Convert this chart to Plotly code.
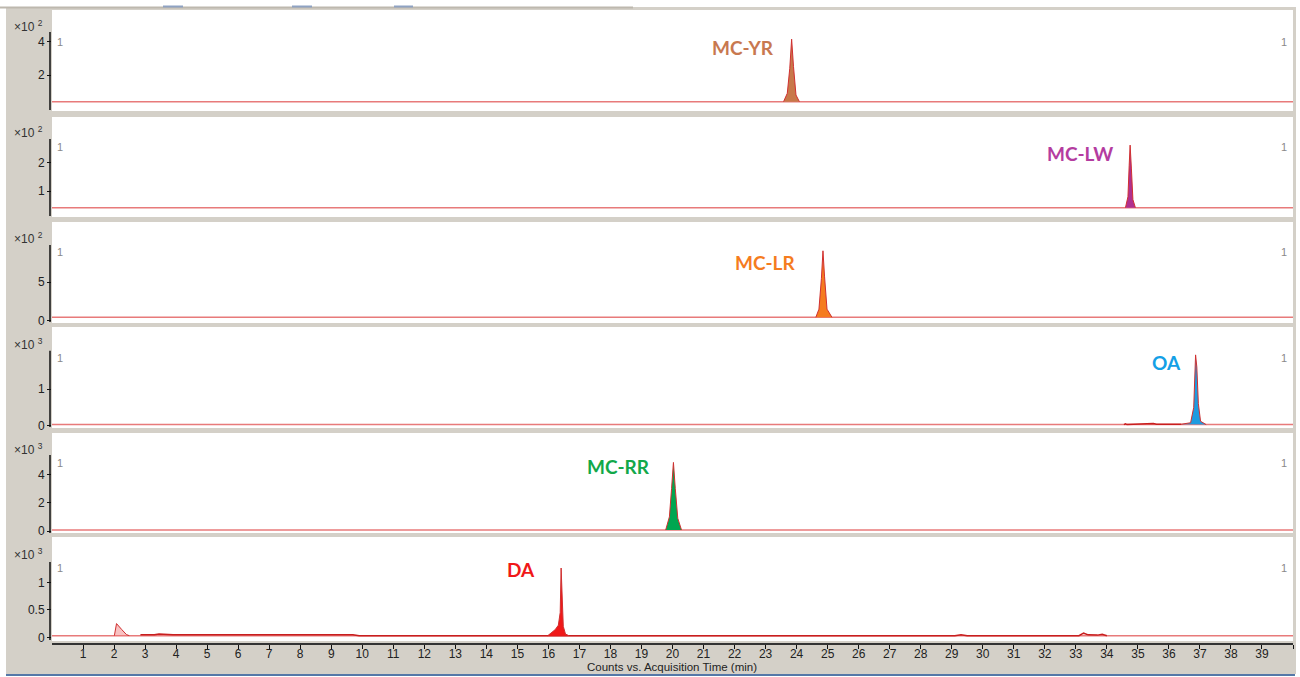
import plotly.graph_objects as go

W, H = 1300, 677
ML, MR, MT, MB = 52, 7, 0, 33
PW = W - ML - MR
PH = H - MT - MB


def px(x):
    return (x - ML) / PW


def py(y):
    return (H - MB - y) / PH


# ---------------- data ----------------
time_range = [0, 40]
x_tickvals = list(range(1, 41))
x_ticktext = [str(v) for v in range(1, 40)] + [""]

compounds = ["MC-YR", "MC-LW", "MC-LR", "OA", "MC-RR", "DA"]
exponents = [2, 2, 2, 3, 3, 3]
baselines = [0.40, 0.42, 0.44, 0.03, 0.07, 0.03]
y_ranges = [[-0.16, 5.90], [0.094, 3.58], [-0.30, 12.85],
            [-0.063, 2.69], [-0.14, 6.93], [-0.067, 1.824]]
y_tickvals = [[2, 4], [1, 2], [0, 5], [0, 1], [0, 2, 4], [0, 0.5, 1]]
y_ticktext = [["2", "4"], ["1", "2"], ["0", "5"], ["0", "1"], ["0", "2", "4"], ["0", "0.5", "1"]]
axis_line_span = [[-0.10, 4.58], [0.13, 2.81], [-0.17, 9.86],
                  [-0.035, 2.04], [-0.14, 5.37], [-0.05, 1.37]]

# peak profiles (time in min, counts in panel units)
yr_t = [23.58, 23.70, 23.78, 23.84, 23.90, 23.98, 24.09]
yr_y = [0.40, 0.90, 2.40, 4.15, 2.50, 0.80, 0.40]
lw_t = [34.60, 34.68, 34.72, 34.75, 34.79, 34.84, 34.92]
lw_y = [0.42, 0.80, 1.90, 2.60, 1.80, 0.70, 0.42]
lr_t = [24.62, 24.72, 24.80, 24.85, 24.90, 24.98, 25.14]
lr_y = [0.44, 1.50, 5.50, 9.10, 5.80, 1.50, 0.44]
oa_t = [36.40, 36.70, 36.80, 36.86, 36.90, 36.95, 37.02, 37.20]
oa_y = [0.04, 0.08, 0.50, 1.93, 1.60, 0.60, 0.12, 0.03]
oa_noise_t = [34.55, 34.60, 34.65, 35.00, 35.40, 35.50, 35.60, 36.00, 36.40]
oa_noise_y = [0.03, 0.05, 0.03, 0.04, 0.04, 0.06, 0.04, 0.04, 0.04]
rr_t = [19.78, 19.90, 19.97, 20.03, 20.09, 20.17, 20.29]
rr_y = [0.07, 1.00, 3.00, 4.85, 3.00, 0.90, 0.07]
da_t = [15.98, 16.10, 16.22, 16.32, 16.38, 16.41, 16.44, 16.48, 16.55, 16.66]
da_y = [0.03, 0.08, 0.14, 0.22, 0.45, 1.26, 0.60, 0.20, 0.06, 0.03]
da_early_t = [2.01, 2.08, 2.25, 2.40, 2.49]
da_early_y = [0.03, 0.25, 0.14, 0.05, 0.03]
da_noise_t = [2.85, 3.30, 3.45, 3.70, 3.90, 5.80, 6.90, 8.50, 9.70, 9.90, 29.10, 29.30, 29.50, 33.10, 33.25, 33.40, 33.70, 33.85, 34.00]
da_noise_y = [0.045, 0.045, 0.060, 0.055, 0.045, 0.045, 0.040, 0.045, 0.045, 0.030, 0.030, 0.045, 0.030, 0.030, 0.075, 0.045, 0.040, 0.055, 0.030]

peak_series = [
    [(yr_t, yr_y, "#C8784A")],
    [(lw_t, lw_y, "#B0308F")],
    [(lr_t, lr_y, "#F57C1F")],
    [(oa_t, oa_y, "#1E9BE0")],
    [(rr_t, rr_y, "#00A650")],
    [(da_t, da_y, "#F01818"), (da_early_t, da_early_y, "rgba(240,120,120,0.45)")],
]
label_colors = ["#C87850", "#B43CA0", "#F57C1F", "#14A0E6", "#12A84A", "#F01818"]

# ---------------- layout geometry (pixels) ----------------
panel_px = [(10, 111), (117, 217), (222, 323), (327, 428), (433, 533), (537, 641)]
label_px = [(743, 47), (1080, 154), (765, 262), (1166, 362), (618, 466), (521, 569)]
one_px = [41.7, 146.7, 251.7, 358.3, 462.7, 568.3]
exp_px = [26, 132, 238, 344, 449, 554]

fig = go.Figure()
layout = dict(
    width=W, height=H,
    margin=dict(l=ML, r=MR, t=MT, b=MB),
    paper_bgcolor="white",
    plot_bgcolor="rgba(0,0,0,0)",
    showlegend=False,
    font=dict(family="Liberation Sans, Arial, sans-serif", size=12, color="#222"),
)

shapes = []
annotations = []

# grey window frame
shapes.append(dict(type="rect", xref="paper", yref="paper", layer="below",
                   x0=px(6), x1=px(1296), y0=py(674), y1=py(7),
                   fillcolor="#D4D0C8", line=dict(width=0)))
shapes.append(dict(type="line", xref="paper", yref="paper", layer="below",
                   x0=px(0), x1=px(633), y0=py(7.5), y1=py(7.5),
                   line=dict(color="#BDB8AE", width=2)))
for a, b in [(163, 183), (292, 312), (394, 413)]:
    shapes.append(dict(type="line", xref="paper", yref="paper", layer="below",
                       x0=px(a), x1=px(b), y0=py(6.5), y1=py(6.5),
                       line=dict(color="#8FA2C2", width=2)))
shapes.append(dict(type="line", xref="paper", yref="paper", layer="below",
                   x0=px(6), x1=px(1295), y0=py(675), y1=py(675),
                   line=dict(color="#5578A8", width=2)))

for i in range(6):
    n = i + 1
    xa = "x" if n == 1 else f"x{n}"
    ya = "y" if n == 1 else f"y{n}"
    top, bot = panel_px[i]
    # white panel
    shapes.append(dict(type="rect", xref="paper", yref="paper", layer="below",
                       x0=px(52), x1=px(1293), y0=py(bot), y1=py(top),
                       fillcolor="white", line=dict(width=0)))
    # y axis line
    shapes.append(dict(type="line", xref="paper", yref=ya, layer="above",
                       x0=px(50), x1=px(50),
                       y0=axis_line_span[i][0], y1=axis_line_span[i][1],
                       line=dict(color="#111", width=1.5)))

    # baseline
    fig.add_trace(go.Scatter(x=time_range, y=[baselines[i]] * 2, mode="lines",
                             line=dict(color="#E87A7A", width=1.5),
                             xaxis=xa, yaxis=ya, hoverinfo="skip"))
    if i == 3:
        fig.add_trace(go.Scatter(x=oa_noise_t, y=oa_noise_y, mode="lines",
                                 line=dict(color="#C81E1E", width=1.5),
                                 xaxis=xa, yaxis=ya, hoverinfo="skip"))
    if i == 5:
        fig.add_trace(go.Scatter(x=da_noise_t, y=da_noise_y, mode="lines",
                                 line=dict(color="#C81E1E", width=1.5),
                                 xaxis=xa, yaxis=ya, hoverinfo="skip"))
    for t, v, c in peak_series[i]:
        fig.add_trace(go.Scatter(x=t, y=v, mode="lines", fill="toself",
                                 fillcolor=c, line=dict(color="#D03030", width=1),
                                 xaxis=xa, yaxis=ya, hoverinfo="skip"))

    layout["xaxis" if n == 1 else f"xaxis{n}"] = dict(
        domain=[0, 1], range=time_range, anchor=ya, visible=False, fixedrange=True)
    layout["yaxis" if n == 1 else f"yaxis{n}"] = dict(
        domain=[py(bot), py(top)], range=y_ranges[i], anchor=xa,
        tickvals=y_tickvals[i], ticktext=y_ticktext[i],
        ticks="outside", ticklen=4, tickwidth=1, tickcolor="#111",
        showgrid=False, zeroline=False, showline=False,
        tickfont=dict(size=12, color="#222"), fixedrange=True)

    # peak name
    annotations.append(dict(xref="paper", yref="paper", x=px(label_px[i][0]), y=py(label_px[i][1]),
                            text=f"<b>{compounds[i]}</b>", showarrow=False,
                            xanchor="center", yanchor="middle",
                            font=dict(family="Lato, Open Sans, sans-serif", size=19,
                                      color=label_colors[i])))
    # "1" markers
    for xx, anc in [(55, "left"), (1289, "right")]:
        annotations.append(dict(xref="paper", yref="paper", x=px(xx), y=py(one_px[i]),
                                text="1", showarrow=False, xanchor=anc, yanchor="middle",
                                font=dict(size=11, color="#8A8A8A")))
    # exponent
    annotations.append(dict(xref="paper", yref="paper", x=px(12), y=py(exp_px[i]),
                            text=f"×10 <sup>{exponents[i]}</sup>", showarrow=False,
                            xanchor="left", yanchor="middle",
                            font=dict(size=12, color="#333")))

# bottom time axis
layout["xaxis6"].update(visible=True, anchor="free", position=0,
                        tickvals=x_tickvals, ticktext=x_ticktext,
                        ticks="outside", ticklen=4, tickwidth=1, tickcolor="#111",
                        ticklabelstandoff=-5,
                        showline=True, linecolor="#333", linewidth=1.5,
                        showgrid=False, zeroline=False,
                        tickfont=dict(size=12, color="#222"))
annotations.append(dict(xref="paper", yref="paper", x=px(672), y=py(666.5),
                        text="Counts vs. Acquisition Time (min)", showarrow=False,
                        xanchor="center", yanchor="middle",
                        font=dict(size=11.5, color="#222")))

layout["shapes"] = shapes
layout["annotations"] = annotations
fig.update_layout(**layout)
fig.write_html("out.html", config={"displayModeBar": False},
               post_script="document.body.style.margin='0';document.body.style.padding='0';")
